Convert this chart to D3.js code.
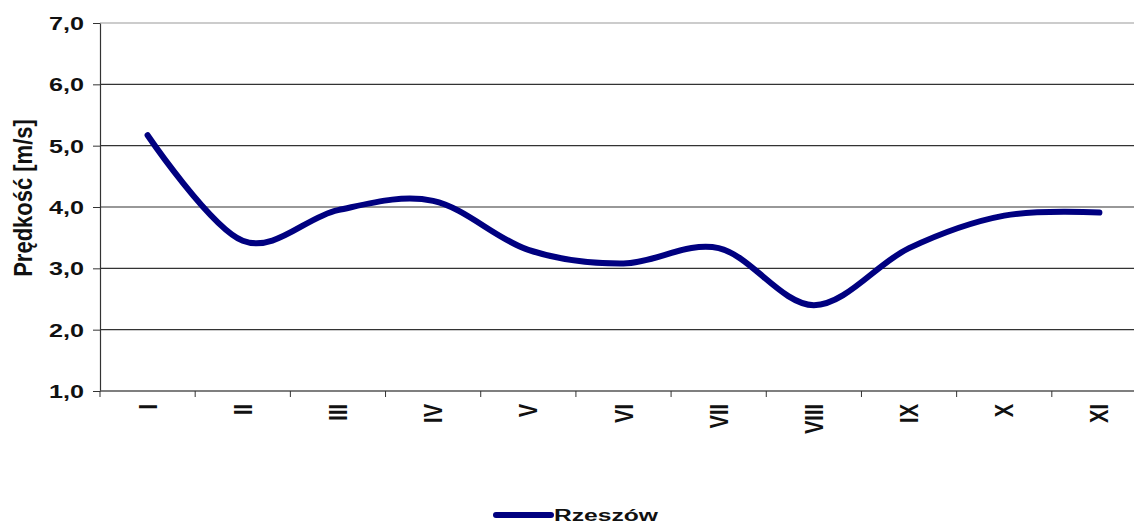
<!DOCTYPE html>
<html>
<head>
<meta charset="utf-8">
<script src="https://cdn.jsdelivr.net/npm/d3@7"></script>
<style>
  body { margin: 0; background: #fff; }
  text { font-family: "Liberation Sans", Arial, sans-serif; font-weight: bold; fill: #111; }
</style>
</head>
<body>
<svg id="chart" width="1134" height="524"></svg>
<script>
// months (roman numerals) and mean wind speed
const months = ["I", "II", "III", "IV", "V", "VI", "VII", "VIII", "IX", "X", "XI"];
const speed = [5.17, 3.45, 3.95, 4.1, 3.3, 3.08, 3.33, 2.4, 3.33, 3.86, 3.91];
const yTicks = [1, 2, 3, 4, 5, 6, 7];
const seriesName = "Rzeszów";

let svg = d3.select("#chart");
// plot runs off the right edge of the picture, like the original
let margin = {top: 23, left: 100, bottom: 133};
let plotRight = 1147;
let height = +svg.attr("height") - margin.bottom;

let x = d3.scaleBand().domain(months).range([margin.left, plotRight]);
let y = d3.scaleLinear().domain([1, 7]).range([height, margin.top]);

svg.append("rect").attr("width", 1134).attr("height", 524).attr("fill", "#fff");

// gridlines
svg.append("g")
    .selectAll("line")
    .data(yTicks.slice(1))
    .enter().append("line")
    .attr("x1", margin.left).attr("x2", plotRight)
    .attr("y1", d => y(d)).attr("y2", d => y(d))
    .attr("stroke", d => d === 7 ? "#999" : "#333")
    .attr("stroke-width", 1.2);

// y axis
let yAxis = svg.append("g")
    .attr("transform", `translate(${margin.left},0)`)
    .call(d3.axisLeft(y).tickValues(yTicks).tickSize(7).tickSizeOuter(0).tickFormat(d => d3.format(".1f")(d).replace(".", ",")));
yAxis.select(".domain").attr("stroke", "#333").attr("stroke-width", 1.2);
yAxis.selectAll(".tick line").attr("stroke", "#333");
yAxis.selectAll("text")
    .attr("x", null).attr("dy", null)
    .attr("font-size", 18)
    .attr("text-anchor", "end")
    .attr("transform", "translate(-16, 6.5) scale(1.4,1)")
    .style("font-weight", "bold");

// x axis, ticks on band edges
let xAxis = svg.append("g").attr("transform", `translate(0,${height})`);
xAxis.append("line")
    .attr("x1", margin.left).attr("x2", plotRight)
    .attr("stroke", "#555").attr("stroke-width", 1.5);
xAxis.selectAll("line.tk")
    .data(months)
    .enter().append("line").attr("class", "tk")
    .attr("x1", d => x(d)).attr("x2", d => x(d))
    .attr("y1", 0).attr("y2", 6)
    .attr("stroke", "#333");
xAxis.selectAll("text")
    .data(months)
    .enter().append("text")
    .attr("font-size", 20)
    .attr("text-anchor", "end")
    .attr("dy", "0.36em")
    .attr("transform", d => `translate(${x(d) + x.bandwidth() / 2}, 13) scale(1.25,1) rotate(-90)`)
    .text(d => d);

// axis title
svg.append("text")
    .attr("font-size", 22)
    .attr("text-anchor", "middle")
    .attr("transform", "translate(32, 198) scale(1.2,1) rotate(-90)")
    .text("Prędkość [m/s]");

// the series
let line = d3.line()
    .x((d, i) => x(months[i]) + x.bandwidth() / 2)
    .y(d => y(d))
    .curve(d3.curveCatmullRom.alpha(0));
svg.append("path")
    .datum(speed)
    .attr("d", line)
    .attr("fill", "none")
    .attr("stroke", "#000080")
    .attr("stroke-width", 6)
    .attr("stroke-linecap", "round")
    .attr("stroke-linejoin", "round");

// legend
let legend = svg.append("g").attr("transform", "translate(496, 515)");
legend.append("line")
    .attr("x1", 0).attr("x2", 55)
    .attr("stroke", "#000080").attr("stroke-width", 6).attr("stroke-linecap", "round");
legend.append("text")
    .attr("font-size", 17)
    .attr("transform", "translate(58, 5.5) scale(1.45,1)")
    .text(seriesName);
</script>
</body>
</html>
